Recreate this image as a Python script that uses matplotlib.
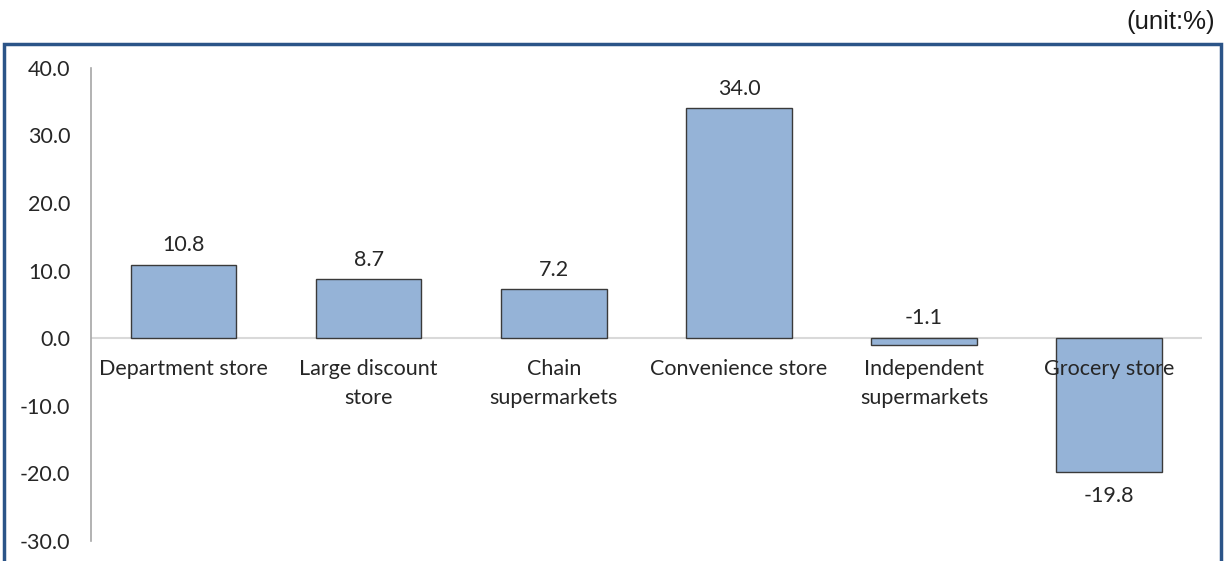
import numpy as np
import matplotlib.pyplot as plt
from matplotlib.patches import Rectangle

categories = ['Department store', 'Large discount\nstore', 'Chain\nsupermarkets',
              'Convenience store', 'Independent\nsupermarkets', 'Grocery store']
growth = [10.8, 8.7, 7.2, 34.0, -1.1, -19.8]
yticks = [-30, -20, -10, 0, 10, 20, 30, 40]

plt.rcParams['font.family'] = ['Lato', 'DejaVu Sans']
FS = 15.5

fig = plt.figure(figsize=(12.25, 5.61), dpi=100)
ax = fig.add_axes([0.0743, 0.0365, 0.9067, 0.8423])

x = np.arange(len(categories))
ax.bar(x, growth, width=0.57, color='#95B3D7', edgecolor='#3A3A3A', linewidth=1.0, zorder=2)

ax.set_xlim(-0.5, len(categories) - 0.5)
ax.set_ylim(-30, 40)
ax.set_yticks(yticks)
ax.set_yticklabels([f'{v:.1f}' for v in yticks], fontsize=FS, color='#262626')
ax.tick_params(axis='y', length=0, pad=15)
ax.set_xticks([])

for side in ['top', 'right', 'bottom']:
    ax.spines[side].set_visible(False)
ax.spines['left'].set_color('#A6A6A6')
ax.spines['left'].set_linewidth(1.2)
ax.axhline(0, color='#D9D9D9', linewidth=1.5, zorder=1)

# category names sit right under the zero line
for xi, name in zip(x, categories):
    ax.annotate(name, (xi, 0), xytext=(0, -15), textcoords='offset points',
                ha='center', va='top', fontsize=FS, color='#262626', linespacing=1.55)

# value labels: above positive bars and small negatives, below the big drop
for xi, v in zip(x, growth):
    if v > -5:
        ax.annotate(f'{v:.1f}', (xi, max(v, 0)), xytext=(0, 7), textcoords='offset points',
                    ha='center', va='bottom', fontsize=FS, color='#262626')
    else:
        ax.annotate(f'{v:.1f}', (xi, v), xytext=(0, -10), textcoords='offset points',
                    ha='center', va='top', fontsize=FS, color='#262626')

# blue frame around the plot area
frame = Rectangle((4 / 1225, -0.02), 1217 / 1225, 1 - 44 / 561 + 0.02,
                  transform=fig.transFigure, fill=False, edgecolor='#2B5488',
                  linewidth=2.5, clip_on=False)
fig.patches.append(frame)

fig.text(1215 / 1225, 1 - 22 / 561, '(unit:%)', ha='right', va='center',
         fontsize=18.5, family='Liberation Sans', color='#1A1A1A')

fig.savefig('out.png', dpi=100)
